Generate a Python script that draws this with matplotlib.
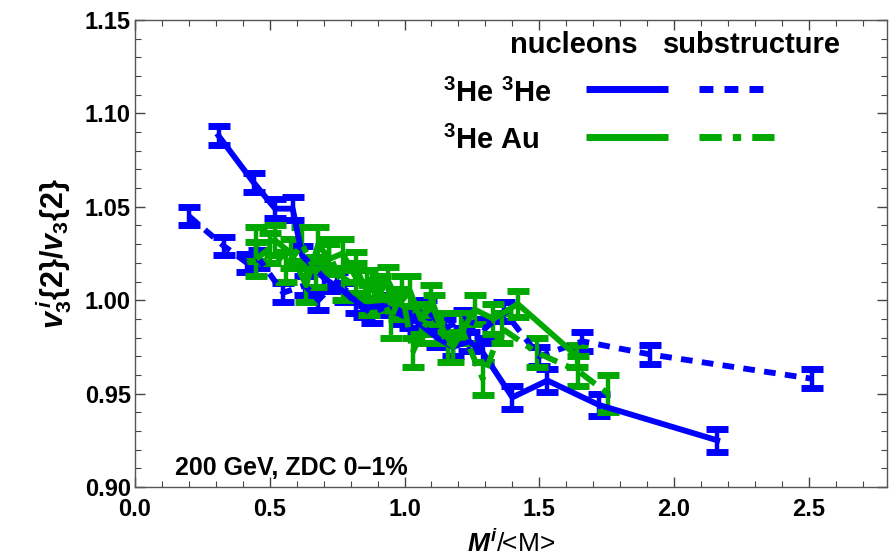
import numpy as np
import matplotlib
matplotlib.use("Agg")
import matplotlib.pyplot as plt
from matplotlib.ticker import MultipleLocator, FormatStrFormatter

plt.rcParams['font.family'] = ['Liberation Sans', 'DejaVu Sans']
plt.rcParams['font.weight'] = 'bold'
plt.rcParams['mathtext.fontset'] = 'custom'
plt.rcParams['mathtext.rm'] = 'Liberation Sans:bold'
plt.rcParams['mathtext.bf'] = 'Liberation Sans:bold'
plt.rcParams['mathtext.it'] = 'Liberation Sans:bold:italic'

BLUE = '#0000ff'
GREEN = '#00a800'

# 3He 3He, nucleons
hehe_nuc_x = [0.31, 0.44, 0.52, 0.585, 0.62, 0.70, 0.78, 0.85, 0.92, 0.99, 1.05, 1.12, 1.18, 1.24, 1.29, 1.40, 1.53, 1.72, 2.16]
hehe_nuc_y = [1.088, 1.063, 1.049, 1.049, 1.024, 1.012, 1.004, 0.996, 0.997, 0.992, 0.988, 0.980, 0.975, 0.978, 0.972, 0.948, 0.957, 0.944, 0.925]
hehe_nuc_e = [0.005, 0.005, 0.005, 0.006, 0.005, 0.005, 0.005, 0.005, 0.005, 0.005, 0.005, 0.005, 0.005, 0.005, 0.005, 0.006, 0.006, 0.006, 0.006]

# 3He 3He, substructure
hehe_sub_x = [0.20, 0.33, 0.415, 0.46, 0.55, 0.63, 0.68, 0.75, 0.82, 0.88, 0.95, 1.02, 1.08, 1.15, 1.22, 1.30, 1.37, 1.50, 1.66, 1.91, 2.51]
hehe_sub_y = [1.045, 1.029, 1.020, 1.022, 1.004, 1.008, 1.000, 1.010, 0.998, 0.993, 0.998, 0.990, 0.995, 0.985, 0.990, 0.985, 0.994, 0.970, 0.978, 0.971, 0.958]
hehe_sub_e = [0.005] * len(hehe_sub_x)

# 3He Au, nucleons
heau_nuc_x = [0.45, 0.52, 0.58, 0.635, 0.68, 0.72, 0.77, 0.82, 0.86, 0.90, 0.94, 0.98, 1.02, 1.06, 1.10, 1.14, 1.18, 1.22, 1.26, 1.33, 1.42, 1.64]
heau_nuc_y = [1.030, 1.032, 1.025, 1.008, 1.030, 1.022, 1.025, 1.012, 1.008, 1.003, 1.010, 0.998, 1.005, 0.990, 1.000, 0.985, 0.975, 0.985, 0.995, 0.990, 0.998, 0.970]
heau_nuc_e = [0.009, 0.008, 0.008, 0.009, 0.009, 0.008, 0.008, 0.008, 0.008, 0.008, 0.008, 0.008, 0.008, 0.008, 0.008, 0.008, 0.008, 0.008, 0.008, 0.008, 0.007, 0.006]

# 3He Au, substructure
heau_sub_x = [0.45, 0.50, 0.56, 0.62, 0.67, 0.72, 0.77, 0.82, 0.87, 0.91, 0.95, 0.99, 1.03, 1.07, 1.11, 1.16, 1.21, 1.29, 1.36, 1.49, 1.645, 1.755]
heau_sub_y = [1.022, 1.028, 1.018, 1.030, 1.015, 1.025, 1.008, 1.018, 1.000, 1.005, 0.990, 1.005, 0.972, 0.985, 0.995, 0.975, 0.985, 0.958, 0.985, 0.972, 0.962, 0.950]
heau_sub_e = [0.009, 0.008, 0.008, 0.009, 0.008, 0.008, 0.008, 0.008, 0.008, 0.008, 0.010, 0.008, 0.008, 0.008, 0.008, 0.008, 0.008, 0.009, 0.008, 0.008, 0.008, 0.010]

dotted = (0, (2.0, 1.6))
dashdot = (0, (3.2, 1.6, 1.2, 1.6))

fig = plt.figure(figsize=(8.89, 5.59), dpi=100)
ax = fig.add_axes([135/889, 72/559, 752/889, 467/559])

def draw(x, y, e, color, ls):
    ax.errorbar(x, y, yerr=e, color=color, ecolor=color, lw=4.2, ls=ls,
                elinewidth=3.2, capsize=8, capthick=5, dash_capstyle='butt')

draw(hehe_sub_x, hehe_sub_y, hehe_sub_e, BLUE, dotted)
draw(hehe_nuc_x, hehe_nuc_y, hehe_nuc_e, BLUE, '-')
draw(heau_sub_x, heau_sub_y, heau_sub_e, GREEN, dashdot)
draw(heau_nuc_x, heau_nuc_y, heau_nuc_e, GREEN, '-')

ax.set_xlim(0, 2.79)
ax.set_ylim(0.90, 1.15)
ax.xaxis.set_major_locator(MultipleLocator(0.5))
ax.xaxis.set_minor_locator(MultipleLocator(0.1))
ax.yaxis.set_major_locator(MultipleLocator(0.05))
ax.yaxis.set_minor_locator(MultipleLocator(0.01))
ax.xaxis.set_major_formatter(FormatStrFormatter('%.1f'))
ax.yaxis.set_major_formatter(FormatStrFormatter('%.2f'))
ax.tick_params(which='both', direction='in', top=True, right=True, color='#444444')
ax.tick_params(which='major', length=7, width=1, labelsize=17)
ax.tick_params(axis='x', which='major', pad=8)
ax.tick_params(axis='y', which='major', pad=3)
ax.tick_params(which='minor', length=4, width=0.8)
for s in ax.spines.values():
    s.set_color('#555555')
    s.set_linewidth(1)

ax.set_xlabel(r'$M^{i}$/<M>', fontsize=19, labelpad=6)
ax.set_ylabel(r'$v^{\,i}_{3}\{2\}/v_{3}\{2\}$', fontsize=22, labelpad=8)

# legend key
ax.text(0.584, 0.929, 'nucleons', transform=ax.transAxes, fontsize=21, ha='center', va='baseline')
ax.text(0.820, 0.929, 'substructure', transform=ax.transAxes, fontsize=21, ha='center', va='baseline')
ax.text(0.410, 0.824, r'$^{3}$He $^{3}$He', transform=ax.transAxes, fontsize=21, ha='left', va='baseline')
ax.text(0.410, 0.724, r'$^{3}$He Au', transform=ax.transAxes, fontsize=21, ha='left', va='baseline')
ax.plot([0.600, 0.709], [0.852, 0.852], transform=ax.transAxes, color=BLUE, lw=5, solid_capstyle='butt')
ax.plot([0.750, 0.840], [0.852, 0.852], transform=ax.transAxes, color=BLUE, lw=5, ls=dotted, dash_capstyle='butt')
ax.plot([0.600, 0.709], [0.749, 0.749], transform=ax.transAxes, color=GREEN, lw=5, solid_capstyle='butt')
ax.plot([0.750, 0.852], [0.749, 0.749], transform=ax.transAxes, color=GREEN, lw=5, ls=dashdot, dash_capstyle='butt')

ax.text(0.053, 0.026, '200 GeV, ZDC 0\u20131%', transform=ax.transAxes, fontsize=18, ha='left', va='baseline')

fig.savefig('out.png', dpi=100)
